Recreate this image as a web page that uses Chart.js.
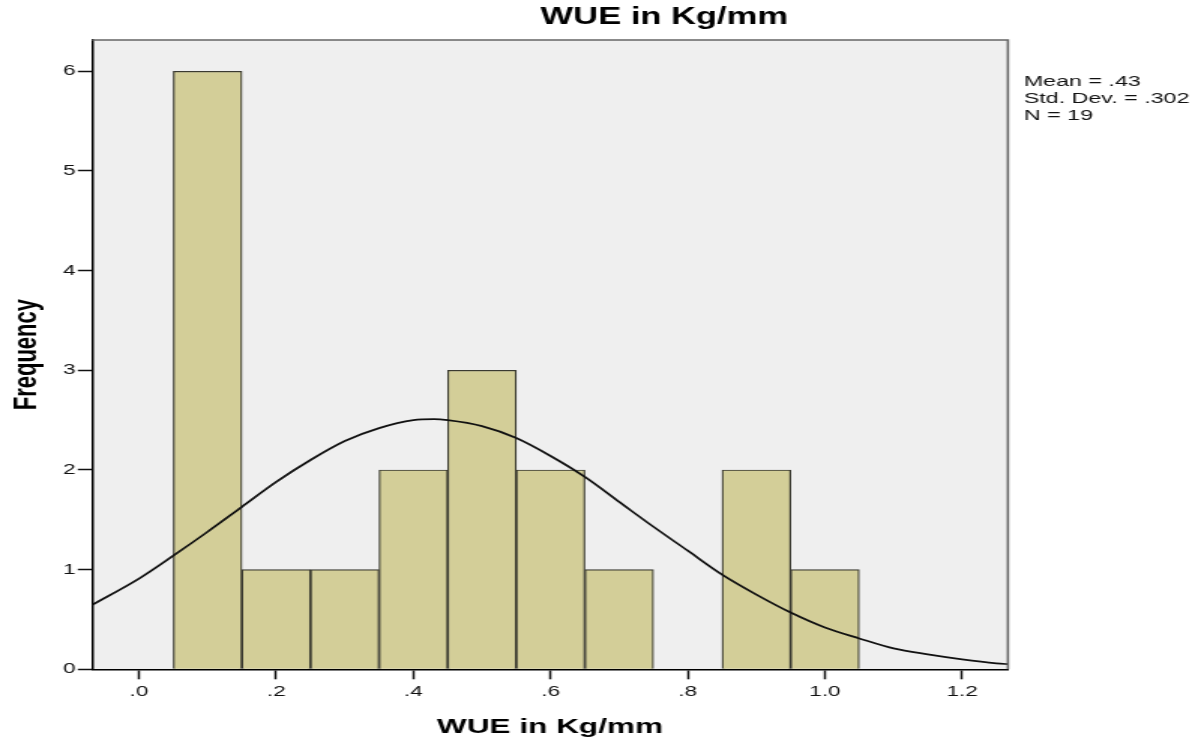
<!DOCTYPE html>
<html>
<head>
<meta charset="utf-8">
<title>WUE in Kg/mm</title>
<script src="https://cdn.jsdelivr.net/npm/chart.js@4/dist/chart.umd.min.js"></script>
<style>
    html, body { margin: 0; padding: 0; background: #ffffff; }
</style>
</head>
<body>
<!-- the reference picture is stretched 1.5x sideways, so the chart is drawn 800 wide and shown at 1201 -->
<canvas id="histChart" width="800" height="742" style="display:block;width:1201px;height:742px"></canvas>
<script>
// Histogram bins (centre of each 0.1 wide bin) and counts
const binCenters = [0.1, 0.2, 0.3, 0.4, 0.5, 0.6, 0.7, 0.9, 1.0];
const frequencies = [6, 1, 1, 2, 3, 2, 1, 2, 1];

// Normal curve
const curveX = [-0.07, 0.00, 0.05, 0.10, 0.15, 0.20, 0.25, 0.30, 0.35, 0.40, 0.43, 0.45, 0.50,
                0.55, 0.60, 0.65, 0.70, 0.75, 0.80, 0.85, 0.90, 0.95, 1.00, 1.05, 1.10, 1.15,
                1.20, 1.25, 1.27];
const curveY = [0.64, 0.91, 1.14, 1.38, 1.63, 1.88, 2.10, 2.29, 2.42, 2.50, 2.51, 2.50, 2.44,
                2.32, 2.14, 1.93, 1.68, 1.43, 1.19, 0.95, 0.75, 0.57, 0.42, 0.31, 0.21, 0.15,
                0.10, 0.06, 0.05];

// Axis ticks
const xTickValues = [0, 0.2, 0.4, 0.6, 0.8, 1.0, 1.2];
const xTickLabels = ['.0', '.2', '.4', '.6', '.8', '1.0', '1.2'];
const yTickValues = [0, 1, 2, 3, 4, 5, 6];

const chartTitle = 'WUE in Kg/mm';
const xTitle = 'WUE in Kg/mm';
const yTitle = 'Frequency';
const statsLines = ['Mean = .43', 'Std. Dev. = .302', 'N = 19'];

const FONT = '"Liberation Sans", Arial, Helvetica, sans-serif';

document.addEventListener('DOMContentLoaded', function() {
    const canvas = document.getElementById('histChart');
    const ctx = canvas.getContext('2d');

    // grey plot background, top/right frame, title and stats text
    const spssFrame = {
        id: 'spssFrame',
        beforeDraw(chart) {
            const a = chart.chartArea;
            const c = chart.ctx;
            c.save();
            c.fillStyle = '#efefef';
            c.fillRect(a.left, a.top, a.right - a.left, a.bottom - a.top);
            c.restore();
        },
        afterDraw(chart) {
            const a = chart.chartArea;
            const c = chart.ctx;
            c.save();
            c.strokeStyle = '#666666';
            c.lineWidth = 1.6;
            c.beginPath();
            c.moveTo(a.left, a.top);
            c.lineTo(a.right, a.top);
            c.lineTo(a.right, a.bottom);
            c.stroke();

            c.fillStyle = '#000000';
            c.textAlign = 'center';
            c.textBaseline = 'middle';
            c.font = 'bold 23px ' + FONT;
            c.fillText(chartTitle, 442.5, 18);

            c.textAlign = 'left';
            c.fillStyle = '#111111';
            c.font = '15.5px ' + FONT;
            statsLines.forEach(function(line, i) {
                c.fillText(line, a.right + 10.5, 82 + i * 17);
            });
            c.restore();
        }
    };

    new Chart(ctx, {
        data: {
            datasets: [
                {
                    type: 'line',
                    label: 'Normal',
                    data: curveX.map((x, i) => ({ x: x, y: curveY[i] })),
                    borderColor: '#111111',
                    borderWidth: 1.7,
                    pointRadius: 0,
                    cubicInterpolationMode: 'monotone',
                    order: 0
                },
                {
                    type: 'bar',
                    label: 'Frequency',
                    data: binCenters.map((x, i) => ({ x: x, y: frequencies[i] })),
                    backgroundColor: '#d3ce98',
                    borderColor: '#3a3a30',
                    borderWidth: 1.2,
                    barPercentage: 1,
                    categoryPercentage: 1,
                    grouped: false,
                    order: 1
                }
            ]
        },
        options: {
            responsive: false,
            animation: false,
            devicePixelRatio: 1,
            layout: {
                padding: { left: 0, right: 128.6, top: 40, bottom: 0 }
            },
            plugins: {
                legend: { display: false },
                tooltip: { enabled: false }
            },
            scales: {
                x: {
                    type: 'linear',
                    offset: false,
                    min: -0.0685,
                    max: 1.2668,
                    afterBuildTicks: function(scale) {
                        scale.ticks = xTickValues.map(v => ({ value: v }));
                    },
                    afterFit: function(scale) {
                        scale.height = 72.7;
                    },
                    grid: {
                        offset: false,
                        drawOnChartArea: false,
                        drawTicks: true,
                        tickLength: 10,
                        tickColor: '#111111',
                        tickWidth: 1.5
                    },
                    border: { display: true, color: '#000000', width: 1.5 },
                    ticks: {
                        padding: 4,
                        maxRotation: 0,
                        autoSkip: false,
                        color: '#111111',
                        font: { family: FONT, size: 15 },
                        callback: function(value, index) {
                            return xTickLabels[index];
                        }
                    },
                    title: {
                        display: true,
                        text: xTitle,
                        color: '#000000',
                        font: { family: FONT, size: 21, weight: 'bold' },
                        padding: { top: 0, bottom: 2.5 }
                    }
                },
                y: {
                    type: 'linear',
                    min: 0,
                    max: 6.314,
                    afterBuildTicks: function(scale) {
                        scale.ticks = yTickValues.map(v => ({ value: v }));
                    },
                    afterFit: function(scale) {
                        scale.width = 61.3;
                    },
                    grid: {
                        drawOnChartArea: false,
                        drawTicks: true,
                        tickLength: 9.5,
                        tickColor: '#111111',
                        tickWidth: 1.5
                    },
                    border: { display: true, color: '#000000', width: 1.5 },
                    ticks: {
                        padding: 1.5,
                        autoSkip: false,
                        color: '#111111',
                        font: { family: FONT, size: 15 }
                    },
                    title: {
                        display: true,
                        text: yTitle,
                        color: '#000000',
                        font: { family: FONT, size: 22, weight: 'bold' },
                        padding: { top: 4.8, bottom: 0 }
                    }
                }
            }
        },
        plugins: [spssFrame]
    });
});
</script>
</body>
</html>
